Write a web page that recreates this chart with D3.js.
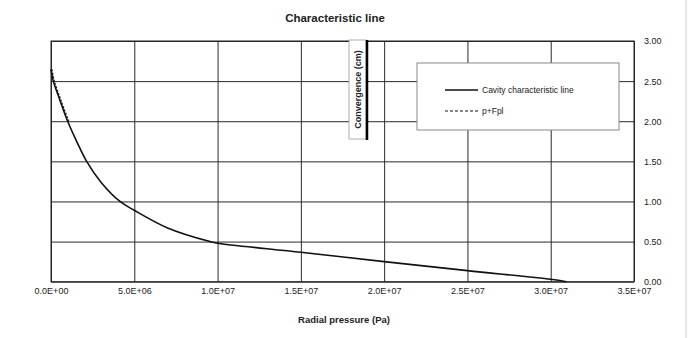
<!DOCTYPE html>
<html>
<head>
<meta charset="utf-8">
<script src="https://cdn.jsdelivr.net/npm/d3@7"></script>
<style>
  body { margin: 0; background: #fff; }
  text { font-family: "Liberation Sans", Arial, sans-serif; }
</style>
</head>
<body>
<div id="chart"></div>
<script>
const pressure = [0, 0.14e6, 0.54e6, 1.0e6, 1.54e6, 2.14e6, 3.0e6, 4.14e6, 5.0e6, 7.0e6, 9.55e6, 1.0e7, 1.5e7, 2.0e7, 2.5e7, 3.0e7, 3.095e7];
const convergence = [2.646, 2.5, 2.26, 2.0, 1.75, 1.5, 1.24, 1.0, 0.89, 0.67, 0.5, 0.48, 0.367, 0.25, 0.1375, 0.03, 0];

// p+Fpl overlaps the first part of the curve
const pfplPressure = [0, 0.14e6, 0.54e6, 1.0e6];
const pfplConvergence = [2.646, 2.5, 2.26, 2.0];

const xTicks = [0, 5e6, 1e7, 1.5e7, 2e7, 2.5e7, 3e7, 3.5e7];
const yTicks = [0, 0.5, 1, 1.5, 2, 2.5, 3];
const seriesNames = ["Cavity characteristic line", "p+Fpl"];

const W = 693, H = 338;
const plot = { left: 51, right: 634, top: 41, bottom: 281.7 };

const svg = d3.select("#chart").append("svg")
    .attr("width", W)
    .attr("height", H);

// outer frame edge
svg.append("line")
    .attr("x1", 686).attr("x2", 686)
    .attr("y1", 0).attr("y2", H)
    .attr("stroke", "#d0d0d0");

const x = d3.scaleLinear().domain([0, 3.5e7]).range([plot.left, plot.right]);
const y = d3.scaleLinear().domain([0, 3]).range([plot.bottom, plot.top]);

const fmtX = d => d.toExponential(1).toUpperCase().replace(/E([+-])(\d)$/, "E$10$2");

// grid
svg.append("g")
    .attr("class", "grid")
    .attr("transform", "translate(0," + plot.bottom + ")")
    .call(d3.axisBottom(x).tickValues(xTicks).tickSize(-(plot.bottom - plot.top)).tickFormat(""))
    .call(g => g.select(".domain").remove())
    .call(g => g.selectAll("line").attr("stroke", "#2a2a2a"));

svg.append("g")
    .attr("class", "grid")
    .attr("transform", "translate(" + plot.right + ",0)")
    .call(d3.axisRight(y).tickValues(yTicks).tickSize(-(plot.right - plot.left)).tickFormat(""))
    .call(g => g.select(".domain").remove())
    .call(g => g.selectAll("line").attr("stroke", "#2a2a2a"));

svg.append("rect")
    .attr("x", plot.left).attr("y", plot.top)
    .attr("width", plot.right - plot.left)
    .attr("height", plot.bottom - plot.top)
    .attr("fill", "none")
    .attr("stroke", "#222");

// tick labels
svg.append("g")
    .attr("transform", "translate(0," + (plot.bottom + 3) + ")")
    .call(d3.axisBottom(x).tickValues(xTicks).tickSize(0).tickFormat(fmtX))
    .call(g => g.select(".domain").remove())
    .call(g => g.selectAll("text").attr("font-size", 9).attr("fill", "#222")
        .attr("font-family", "'Liberation Sans', Arial, sans-serif"));

svg.append("g")
    .attr("transform", "translate(" + (plot.right + 7) + ",0)")
    .call(d3.axisRight(y).tickValues(yTicks).tickSize(0).tickFormat(d3.format(".2f")))
    .call(g => g.select(".domain").remove())
    .call(g => g.selectAll("text").attr("font-size", 9).attr("fill", "#222")
        .attr("font-family", "'Liberation Sans', Arial, sans-serif"));

// series
const line = d3.line()
    .x(d => x(d[0]))
    .y(d => y(d[1]))
    .curve(d3.curveCatmullRom.alpha(0.5));

svg.append("path")
    .datum(d3.zip(pressure, convergence))
    .attr("d", line)
    .attr("fill", "none")
    .attr("stroke", "#111")
    .attr("stroke-width", 1.6);

svg.append("path")
    .datum(d3.zip(pfplPressure, pfplConvergence))
    .attr("d", line)
    .attr("fill", "none")
    .attr("stroke", "#111")
    .attr("stroke-width", 1.2)
    .attr("stroke-dasharray", "2,1.5")
    .attr("transform", "translate(1,0)");

// title
svg.append("text")
    .attr("x", 335).attr("y", 22)
    .attr("text-anchor", "middle")
    .attr("font-size", 11.5)
    .attr("font-weight", "bold")
    .attr("fill", "#222")
    .text("Characteristic line");

svg.append("text")
    .attr("x", 344).attr("y", 323)
    .attr("text-anchor", "middle")
    .attr("font-size", 9.5)
    .attr("font-weight", "bold")
    .attr("fill", "#222")
    .text("Radial pressure (Pa)");

// y-axis title box
const yt = svg.append("g");
yt.append("rect")
    .attr("x", 349).attr("y", 40)
    .attr("width", 17).attr("height", 99)
    .attr("fill", "#fff")
    .attr("stroke", "#999")
    .attr("stroke-width", 0.8);
yt.append("line")
    .attr("x1", 367).attr("x2", 367)
    .attr("y1", 40).attr("y2", 140)
    .attr("stroke", "#000")
    .attr("stroke-width", 2.5);
yt.append("text")
    .attr("transform", "translate(361,89.5) rotate(-90)")
    .attr("text-anchor", "middle")
    .attr("font-size", 9)
    .attr("font-weight", "bold")
    .attr("fill", "#222")
    .text("Convergence (cm)");

// legend
const lg = svg.append("g").attr("transform", "translate(417,63)");
lg.append("rect")
    .attr("width", 202).attr("height", 67)
    .attr("fill", "#fff")
    .attr("stroke", "#888");

const items = lg.selectAll(".item")
    .data(seriesNames)
  .enter().append("g")
    .attr("class", "item")
    .attr("transform", (d, i) => "translate(0," + (27 + i * 21) + ")");

items.append("line")
    .attr("x1", 28).attr("x2", 61)
    .attr("stroke", "#111")
    .attr("stroke-width", (d, i) => i === 0 ? 1.5 : 1)
    .attr("stroke-dasharray", (d, i) => i === 0 ? null : "3,2");

items.append("text")
    .attr("x", 65).attr("y", 3)
    .attr("font-size", 8.5)
    .attr("fill", "#222")
    .text(d => d);
</script>
</body>
</html>
